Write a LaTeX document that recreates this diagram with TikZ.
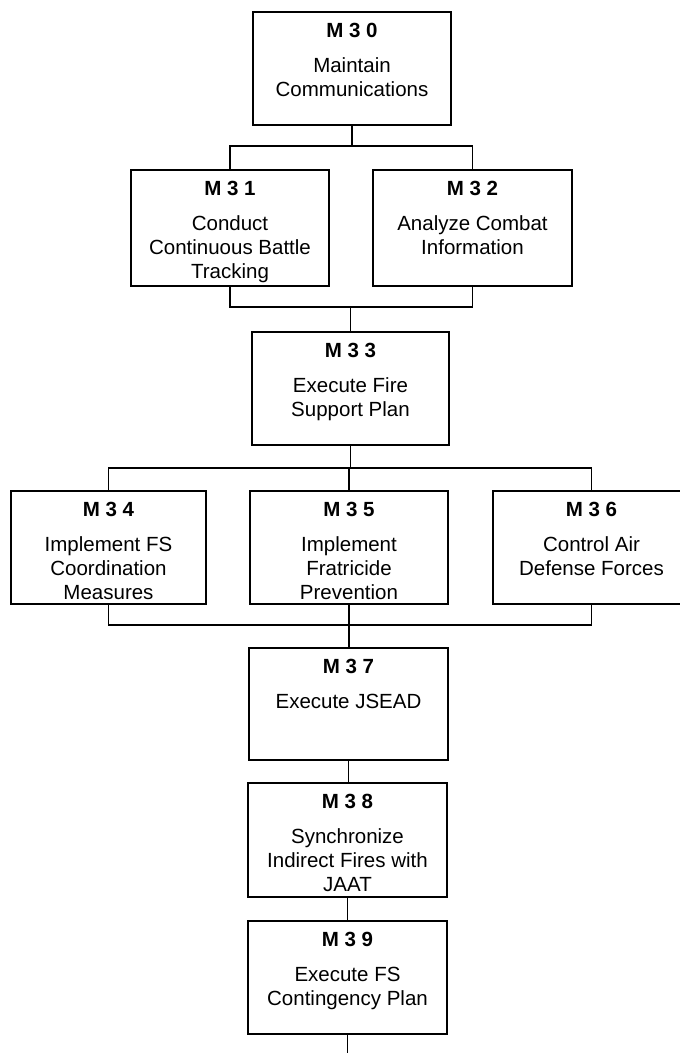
\documentclass[tikz,border=0pt]{standalone}
\usepackage{fontspec}
\setmainfont{Liberation Sans}
\newcommand\tbox[4]{\parbox[c][#2][t]{#1}{\centering\rule{0pt}{25.8pt}\textbf{#3}\\[10.5pt]#4\par}}
\tikzset{
  taskbox/.style={draw=black, line width=2.1pt, inner sep=0pt, rectangle,
    font=\fontsize{20.5}{24}\selectfont},
  conn/.style={line width=1.8pt, draw=black}
}
\begin{document}
\begin{tikzpicture}[x=1pt,y=1pt]
\useasboundingbox (0,0) rectangle (680,-1053);
\fill[white] (0,0) rectangle (680,-1053);
\node[taskbox] (m30) at (352,-68.5) {\tbox{198pt}{113pt}{M 3 0}{Maintain\\Communications}};
\node[taskbox] (m31) at (230,-228) {\tbox{198pt}{116pt}{M 3 1}{Conduct\\Continuous Battle\\Tracking}};
\node[taskbox] (m32) at (472.5,-228) {\tbox{199pt}{116pt}{M 3 2}{Analyze Combat\\Information}};
\node[taskbox] (m33) at (350.5,-388.5) {\tbox{197pt}{113pt}{M 3 3}{Execute Fire\\Support Plan}};
\node[taskbox] (m34) at (108.5,-547.5) {\tbox{195pt}{113pt}{M 3 4}{Implement FS\\Coordination\\Measures}};
\node[taskbox] (m35) at (349,-547.5) {\tbox{198pt}{113pt}{M 3 5}{Implement\\Fratricide\\Prevention}};
\node[taskbox] (m36) at (591.5,-547.5) {\tbox{197pt}{113pt}{M 3 6}{Control Air\\Defense Forces}};
\node[taskbox] (m37) at (348.5,-704) {\tbox{199pt}{112pt}{M 3 7}{Execute JSEAD}};
\node[taskbox] (m38) at (347.5,-840) {\tbox{199pt}{114pt}{M 3 8}{Synchronize\\Indirect Fires with\\JAAT}};
\node[taskbox] (m39) at (347.5,-977.5) {\tbox{199pt}{113pt}{M 3 9}{Execute FS\\Contingency Plan}};
\coordinate (j1) at (352,-146);
\coordinate (j2) at (350.5,-307);
\coordinate (j3) at (350.5,-468);
\coordinate (j4) at (349,-625);
\coordinate (tail) at (347.5,-1060);
\draw[conn] (m30.south) -- (m30.south |- j1);
\draw[conn] (m31.north) |- (j1) -| (m32.north);
\draw[conn] (m31.south) |- (j2) -| (m32.south);
\draw[conn] (j2) -- (m33.north);
\draw[conn] (m33.south) -- (j3);
\draw[conn] (m34.north) |- (j3) -| (m36.north);
\draw[conn] (m35.north) -- (m35.north |- j3);
\draw[conn] (m34.south) |- (j4) -| (m36.south);
\draw[conn] (m35.south) -- (m35.south |- m37.north);
\draw[conn] (m37.south) -- (m37.south |- m38.north);
\draw[conn] (m38.south) -- (m38.south |- m39.north);
\draw[conn] (m39.south) -- (tail);
\end{tikzpicture}
\end{document}
